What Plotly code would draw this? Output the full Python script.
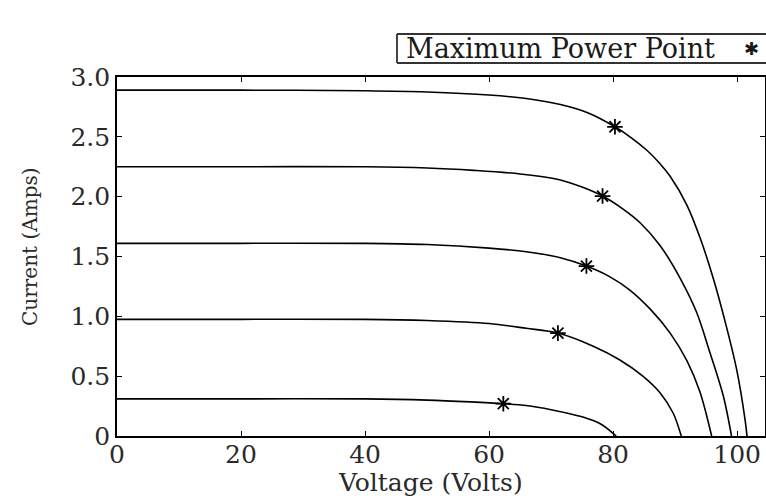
import plotly.graph_objects as go

# ---- data ----
v1 = [0, 20, 40, 50, 60, 66, 71.5, 76, 80.3, 83, 85.4, 87.5, 89.2, 91.9, 94.0, 96.2, 98.3, 99.95, 101.3, 101.6]
i1 = [2.89, 2.89, 2.885, 2.875, 2.85, 2.82, 2.77, 2.70, 2.584, 2.49, 2.39, 2.28, 2.17, 1.93, 1.66, 1.31, 0.91, 0.55, 0.13, 0.0]

v2 = [0, 20, 40, 50, 57.5, 65, 71.5, 75, 78.3, 81.5, 84.4, 87.6, 90.8, 93.5, 95.6, 97.8, 99.1]
i2 = [2.25, 2.25, 2.25, 2.24, 2.22, 2.19, 2.14, 2.08, 2.005, 1.90, 1.78, 1.59, 1.32, 1.03, 0.70, 0.33, 0.0]

v3 = [0, 20, 40, 50, 60, 66, 71.5, 75.7, 79.5, 82.7, 86.0, 89.2, 91.9, 94.0, 95.9]
i3 = [1.61, 1.61, 1.61, 1.60, 1.57, 1.54, 1.49, 1.42, 1.33, 1.22, 1.06, 0.86, 0.63, 0.37, 0.0]

v4 = [0, 20, 40, 50, 60, 66, 71.1, 76.8, 81.1, 84.8, 87.6, 89.7, 91.0]
i4 = [0.975, 0.975, 0.975, 0.965, 0.94, 0.90, 0.86, 0.75, 0.635, 0.50, 0.36, 0.19, 0.0]

v5 = [0, 20, 40, 50, 57, 62.3, 66, 70, 75, 78, 80.5]
i5 = [0.31, 0.31, 0.31, 0.30, 0.285, 0.27, 0.255, 0.22, 0.16, 0.10, 0.0]

mpp_v = [80.3, 78.3, 75.7, 71.1, 62.3]
mpp_i = [2.584, 2.005, 1.42, 0.86, 0.27]

y_ticks = [0, 0.5, 1.0, 1.5, 2.0, 2.5, 3.0]
y_tick_labels = ["0", "0.5", "1.0", "1.5", "2.0", "2.5", "3.0"]
x_ticks = [0, 20, 40, 60, 80, 100]

FONT = "DejaVu Serif"

# figure geometry (window pixels; page margin removed below)
W, H = 766, 500
PL, PR, PT, PB = 117, 765, 77, 436  # plot area
pw, ph = PR - PL, PB - PT


def px(xw):
    return (xw - PL) / pw


def py(yw):
    return 1 + (PT - yw) / ph


fig = go.Figure()
for vv, ii in [(v1, i1), (v2, i2), (v3, i3), (v4, i4), (v5, i5)]:
    fig.add_trace(go.Scatter(x=vv, y=ii, mode="lines",
                             line=dict(color="black", width=1.6, shape="spline", smoothing=0.9),
                             showlegend=False, hoverinfo="skip"))
fig.add_trace(go.Scatter(x=mpp_v, y=mpp_i, mode="markers", name="Maximum Power Point",
                         marker=dict(symbol="asterisk-open", size=13, color="black",
                                     line=dict(color="black", width=1.8)),
                         showlegend=False))

axis_common = dict(showline=True, linecolor="black", linewidth=1.6, mirror="ticks",
                   ticks="inside", ticklen=5, tickwidth=1.2, tickcolor="black",
                   showgrid=False, zeroline=False,
                   tickfont=dict(family=FONT, size=25, color="#2a2a2a"))

fig.update_xaxes(range=[0, 104.5], tickvals=x_ticks, ticklabelstandoff=-5, **axis_common)
fig.update_yaxes(range=[0, 3.0], tickvals=y_ticks, ticktext=y_tick_labels, **axis_common)

# axis titles placed where the reference has them
fig.add_annotation(xref="paper", yref="paper", x=px(430), y=py(482),
                   xanchor="center", yanchor="middle", showarrow=False,
                   text="Voltage (Volts)", font=dict(family=FONT, size=25, color="#2a2a2a"))
fig.add_annotation(xref="paper", yref="paper", x=px(30), y=py(246),
                   xanchor="center", yanchor="middle", showarrow=False, textangle=-90,
                   text="Current (Amps)", font=dict(family=FONT, size=20, color="#2a2a2a"))

# legend box (text followed by the marker; box runs off the right edge as in the reference)
box_line = dict(color="#333333", width=1.8)
bx0, bx1, by0, by1 = px(397), px(800), py(63), py(34)
fig.add_shape(type="line", xref="paper", yref="paper", x0=bx0, x1=bx1, y0=by1, y1=by1, line=box_line)
fig.add_shape(type="line", xref="paper", yref="paper", x0=bx0, x1=bx1, y0=by0, y1=by0, line=box_line)
fig.add_shape(type="line", xref="paper", yref="paper", x0=bx0, x1=bx0, y0=by0, y1=by1, line=box_line)
fig.add_annotation(xref="paper", yref="paper", x=px(404), y=py(48.5),
                   xanchor="left", yanchor="middle", showarrow=False,
                   text="Maximum Power Point",
                   font=dict(family=FONT, size=27, color="#1a1a1a"))
fig.add_annotation(xref="paper", yref="paper", x=px(751), y=py(48.5),
                   xanchor="center", yanchor="middle", showarrow=False,
                   text="✱", font=dict(family="DejaVu Sans", size=18, color="#1a1a1a"))

fig.update_layout(width=W, height=H, plot_bgcolor="white", paper_bgcolor="white",
                  margin=dict(l=PL, r=W - PR, t=PT, b=H - PB, autoexpand=False))

fig.write_html("out.html", config={"displayModeBar": False},
               post_script="document.body.style.margin='0';"
                           "document.body.style.overflow='hidden';"
                           "document.documentElement.style.overflow='hidden';")
